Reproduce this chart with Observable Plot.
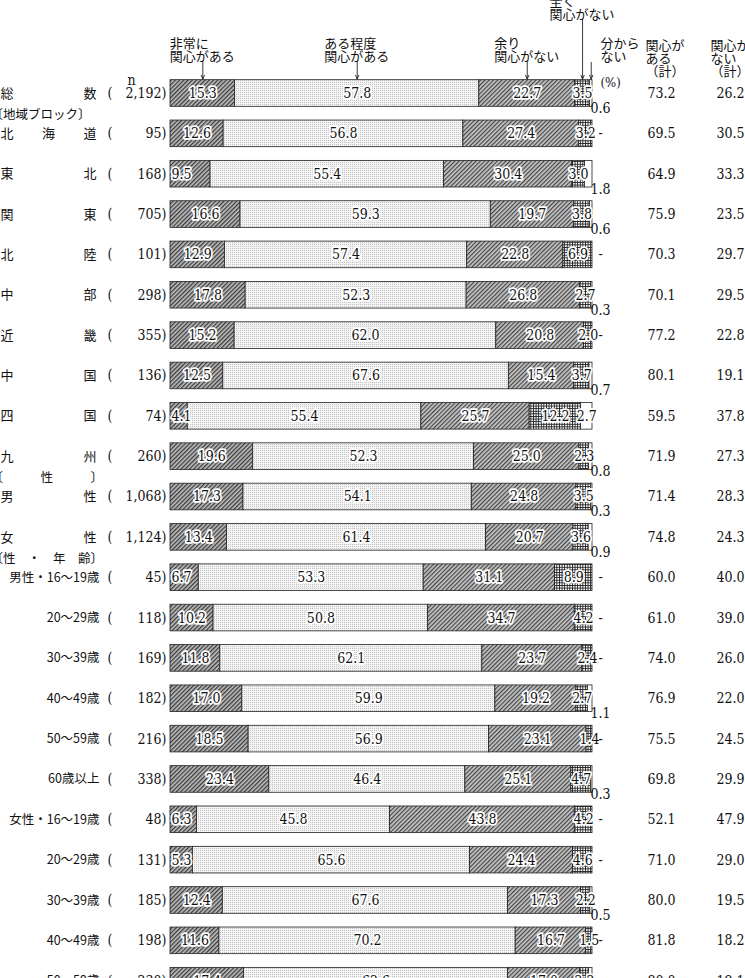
<!DOCTYPE html>
<html><head><meta charset="utf-8">
<script src="https://cdn.jsdelivr.net/npm/d3@7"></script>
<script src="https://cdn.jsdelivr.net/npm/@observablehq/plot@0.6"></script>
<style>
html,body{margin:0;padding:0;background:#fff;}
#chart{width:745px;height:978px;overflow:hidden;}
</style></head><body><div id="chart"></div>
<script>
// ---- data ----
const categories = ["総数","北海道","東北","関東","北陸","中部","近畿","中国","四国","九州","男性","女性",
  "男性・16～19歳","20～29歳","30～39歳","40～49歳","50～59歳","60歳以上",
  "女性・16～19歳","20～29歳","30～39歳","40～49歳","50～59歳"];
const labelStyles = ["justify","justify","justify","justify","justify","justify","justify","justify","justify","justify","justify","justify",
  "right","right","right","right","right","right","right","right","right","right","right"];
const sampleSizes = ["2,192","95","168","705","101","298","355","136","74","260","1,068","1,124",
  "45","118","169","182","216","338","48","131","185","198","230"];
const veryInterested     = [15.3,12.6, 9.5,16.6,12.9,17.8,15.2,12.5, 4.1,19.6,17.3,13.4, 6.7,10.2,11.8,17.0,18.5,23.4, 6.3, 5.3,12.4,11.6,17.4];
const somewhatInterested = [57.8,56.8,55.4,59.3,57.4,52.3,62.0,67.6,55.4,52.3,54.1,61.4,53.3,50.8,62.1,59.9,56.9,46.4,45.8,65.6,67.6,70.2,62.6];
const notVeryInterested  = [22.7,27.4,30.4,19.7,22.8,26.8,20.8,15.4,25.7,25.0,24.8,20.7,31.1,34.7,23.7,19.2,23.1,25.1,43.8,24.4,17.3,16.7,17.0];
const notAtAll           = [ 3.5, 3.2, 3.0, 3.8, 6.9, 2.7, 2.0, 3.7,12.2, 2.3, 3.5, 3.6, 8.9, 4.2, 2.4, 2.7, 1.4, 4.7, 4.2, 4.6, 2.2, 1.5, 2.2];
const dontKnow           = [ 0.6, 0.0, 1.8, 0.6, 0.0, 0.3, 0.0, 0.7, 2.7, 0.8, 0.3, 0.9, 0.0, 0.0, 0.0, 1.1, 0.0, 0.3, 0.0, 0.0, 0.5, 0.0, 0.8];
const interestedTotal    = [73.2,69.5,64.9,75.9,70.3,70.1,77.2,80.1,59.5,71.9,71.4,74.8,60.0,61.0,74.0,76.9,75.5,69.8,52.1,71.0,80.0,81.8,80.0];
const notInterestedTotal = [26.2,30.5,33.3,23.5,29.7,29.5,22.8,19.1,37.8,27.3,28.3,24.3,40.0,39.0,26.0,22.0,24.5,29.9,47.9,29.0,19.5,18.2,19.1];
const seriesKeys = ["非常に関心がある","ある程度関心がある","余り関心がない","全く関心がない","分からない"];
const headerTexts = ["非常に\n関心がある","ある程度\n関心がある","余り\n関心がない","全く\n関心がない","分から\nない"];
const groupHeaders = [
  {row: 1, label: "〔地域ブロック〕"},
  {row: 10, label: "〔　　　性　　　〕"},
  {row: 12, label: "〔性　・　年　齢〕"}
];
const totalHeaders = ["関心が\nある\n（計）","関心が\nない\n（計）"];

// ---- derived tables ----
const seriesValues = [veryInterested, somewhatInterested, notVeryInterested, notAtAll, dontKnow];
const rows = categories.map((label, i) => ({i, label, n: sampleSizes[i], style: labelStyles[i],
  totA: interestedTotal[i], totB: notInterestedTotal[i]}));
const segments = [];
rows.forEach(r => {
  const vals = seriesValues.map(s => s[r.i]);
  const sum = d3.sum(vals);
  let acc = 0;
  vals.forEach((v, j) => {
    const x1 = acc / sum * 100; acc += v; const x2 = acc / sum * 100;
    segments.push({i: r.i, key: seriesKeys[j], k: j, value: v, x1, x2, mid: (x1 + x2) / 2});
  });
});
const headerArrows = segments.filter(d => d.i === 0).map(d => ({...d, top: d.k === 3 ? -1.81 : -0.77, text: headerTexts[d.k]}));

const fmt = v => v.toFixed(1);
const H = 0.33;
const NUM = "DejaVu Serif Condensed, Liberation Serif, serif";
const JP = "Noto Sans CJK JP, sans-serif";
const halo = {stroke: "white", strokeWidth: 3.5, paintOrder: "stroke", fill: "#111"};

const chart = Plot.plot({
  width: 745, height: 978, margin: 0,
  x: {domain: [0, 100], range: [170, 592], axis: null},
  y: {domain: [0, 22], range: [93, 93 + 22 * 40.35], axis: null},
  color: {domain: seriesKeys, range: ["url(#pat-very)","url(#pat-some)","url(#pat-little)","url(#pat-none)","#ffffff"]},
  style: {fontFamily: JP, fontSize: "13px", background: "#fff", color: "#111"},
  marks: [
    // bars
    Plot.rect(segments.filter(d => d.value > 0), {x1: "x1", x2: "x2", y1: d => d.i - H, y2: d => d.i + H,
      fill: "key", stroke: "#222", strokeWidth: 0.8}),
    // inside labels (centred)
    Plot.text(segments.filter(d => d.k < 3 && !(d.k === 0 && d.value < 10)), {x: "mid", y: "i", text: d => fmt(d.value),
      fontFamily: NUM, fontSize: 14, ...halo}),
    // small first-segment labels (left)
    Plot.text(segments.filter(d => d.k === 0 && d.value < 10), {x: "x1", y: "i", text: d => fmt(d.value),
      textAnchor: "start", dx: 1, fontFamily: NUM, fontSize: 14, ...halo}),
    // 全く labels
    Plot.text(segments.filter(d => d.k === 3), {x: "mid", y: "i", text: d => fmt(d.value),
      fontFamily: NUM, fontSize: 14, ...halo}),
    // 分からない: inline (>=2)
    Plot.text(segments.filter(d => d.k === 4 && d.value >= 2), {x: "mid", y: "i", text: d => fmt(d.value),
      fontFamily: NUM, fontSize: 14, ...halo}),
    // 分からない: small, below right
    Plot.text(segments.filter(d => d.k === 4 && d.value > 0 && d.value < 2), {x: () => 100, y: "i", text: d => fmt(d.value),
      textAnchor: "start", dx: -2, dy: 15, fontFamily: NUM, fontSize: 14, fill: "#111"}),
    // 分からない: zero
    Plot.text(segments.filter(d => d.k === 4 && d.value === 0), {x: () => 100, y: "i", text: () => "-",
      textAnchor: "start", dx: 6, fontFamily: NUM, fontSize: 14, fill: "#111"}),
    // left labels
    Plot.text(rows.filter(d => d.style === "justify"), {frameAnchor: "left", y: "i", text: "label",
      textAnchor: "start", fontSize: 13, className: "justify-labels", fill: "#111"}),
    Plot.text(rows.filter(d => d.style === "right"), {frameAnchor: "left", y: "i", text: "label",
      textAnchor: "end", dx: 99, fontSize: 12.5, fill: "#111"}),
    // n column
    Plot.text(rows, {frameAnchor: "left", y: "i", text: () => "(", textAnchor: "start", dx: 107, fontFamily: NUM, fontSize: 14, fill: "#111"}),
    Plot.text(rows, {frameAnchor: "left", y: "i", text: d => d.n + ")", textAnchor: "end", dx: 166, fontFamily: NUM, fontSize: 14, fill: "#111"}),
    Plot.text(["n"], {frameAnchor: "left", y: () => 0, text: d => d, dx: 127, dy: -13, fontFamily: NUM, fontSize: 14, fill: "#111"}),
    // group headers
    Plot.text(groupHeaders, {frameAnchor: "left", y: "row", text: "label", textAnchor: "start", dx: -10, dy: -19, fontSize: 12.5, fill: "#111"}),
    // totals columns
    Plot.text(rows, {x: () => 100, y: "i", text: d => fmt(d.totA), dx: 69, fontFamily: NUM, fontSize: 14, fill: "#111"}),
    Plot.text(rows, {x: () => 100, y: "i", text: d => fmt(d.totB), dx: 138, fontFamily: NUM, fontSize: 14, fill: "#111"}),
    // header arrows & texts
    Plot.arrow(headerArrows, {x1: "mid", x2: "mid", y1: "top", y2: -H, headLength: 7, headAngle: 45, stroke: "#222", strokeWidth: 0.9, insetEnd: 1}),
    Plot.text(headerArrows.filter(d => d.k < 4), {x: "mid", y: "top", text: "text", textAnchor: "start", lineAnchor: "bottom",
      lineHeight: 1.0, dx: -33, dy: -1, fontSize: 13, fill: "#111"}),
    Plot.text(headerArrows.filter(d => d.k === 4), {x: () => 100, y: "top", text: "text", textAnchor: "start", lineAnchor: "bottom",
      lineHeight: 1.0, dx: 8, dy: -1, fontSize: 13, fill: "#111"}),
    Plot.text(["(%)"], {x: () => 100, y: () => 0, text: d => d, textAnchor: "start", dx: 8, dy: -11, fontFamily: NUM, fontSize: 13, fill: "#111"}),
    Plot.text(totalHeaders, {x: () => 100, y: () => -0.44, text: d => d, textAnchor: "start", lineAnchor: "bottom", lineHeight: 1.0,
      fontSize: 13, fill: "#111", className: "total-headers"})
  ]
});

// patterns
const patternDefs = `<svg xmlns="http://www.w3.org/2000/svg"><defs>
<pattern id="pat-very" width="3" height="3" patternUnits="userSpaceOnUse" patternTransform="rotate(45)">
 <rect width="3" height="3" fill="#c0c0c0"/><rect width="1.3" height="3" fill="#3a3a3a"/></pattern>
<pattern id="pat-some" width="2" height="2" patternUnits="userSpaceOnUse">
 <rect width="2" height="2" fill="#f4f4f4"/><rect width="1" height="1" fill="#c2c2c2"/></pattern>
<pattern id="pat-little" width="3" height="3" patternUnits="userSpaceOnUse" patternTransform="rotate(45)">
 <rect width="3" height="3" fill="#c6c6c6"/><rect width="1.2" height="3" fill="#444"/></pattern>
<pattern id="pat-none" width="2.6" height="2.6" patternUnits="userSpaceOnUse">
 <rect width="2.6" height="2.6" fill="#fff"/><rect width="2.6" height="0.9" fill="#222"/><rect width="0.9" height="2.6" fill="#222"/></pattern>
</defs></svg>`;
const doc = new DOMParser().parseFromString(patternDefs, "image/svg+xml");
chart.insertBefore(document.importNode(doc.documentElement.firstElementChild, true), chart.firstChild);

// justify region/sex labels across the label column
chart.querySelectorAll(".justify-labels text").forEach(t => {
  t.setAttribute("textLength", 96);
  t.setAttribute("lengthAdjust", "spacing");
});
// offset the two total headers into their columns
const th = chart.querySelectorAll(".total-headers text");
if (th[0]) th[0].setAttribute("transform", th[0].getAttribute("transform") + " translate(53,0)");
if (th[1]) th[1].setAttribute("transform", th[1].getAttribute("transform") + " translate(118,0)");

document.getElementById("chart").appendChild(chart);
</script></body></html>
